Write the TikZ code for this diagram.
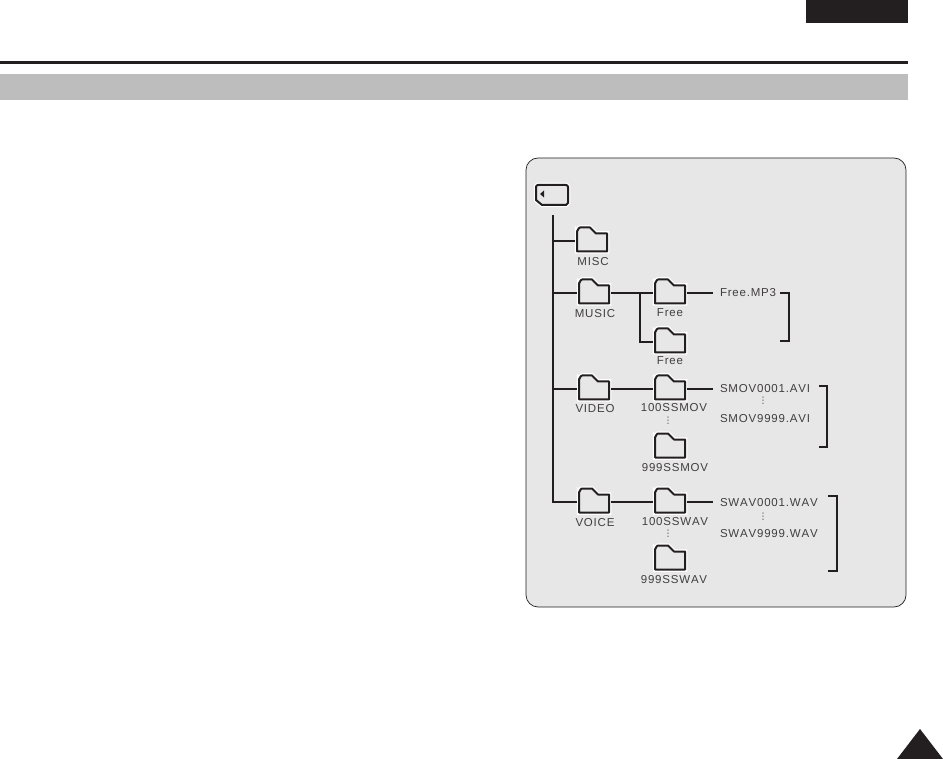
\documentclass[tikz,border=0pt]{standalone}
\usepackage{fontspec}
\setmainfont[LetterSpace=7,Kerning=Off]{Liberation Sans}
\newfontfamily\dotsfont{DejaVu Sans}
\usetikzlibrary{calc}
\definecolor{ink}{RGB}{35,31,32}
\definecolor{bargray}{RGB}{189,189,189}
\definecolor{panelgray}{RGB}{231,231,231}
\definecolor{labelgray}{RGB}{65,62,63}
\tikzset{
  folderbox/.style={minimum width=34pt,minimum height=26pt,inner sep=0pt,outer sep=0pt},
  folderline/.style={draw=ink,fill=panelgray,line width=2pt,line join=round,
    preaction={draw=white,line width=4.5pt}},
  namelabel/.style={text=labelgray,font=\fontsize{11.5}{13}\selectfont,inner sep=0pt,text height=8pt,text depth=0pt},
  filelabel/.style={namelabel,anchor=west,inner xsep=7pt,outer sep=0pt},
  moredots/.style={text=labelgray,font=\dotsfont\fontsize{9}{9}\selectfont,inner sep=0pt},
  treeline/.style={draw=ink,line width=1.7pt},
  bracketline/.style={draw=ink,line width=1.8pt,line cap=butt,line join=miter}
}
\begin{document}
\begin{tikzpicture}[x=1pt,y=-1pt]
  \useasboundingbox (0,0) rectangle (943,759);
  % page furniture
  \fill[ink] (806,0) rectangle (908,23);
  \fill[ink] (0,61) rectangle (908,64);
  \fill[bargray] (0,74) rectangle (908,100);
  \fill[ink] (897,759) -- (920,729) -- (943,759) -- cycle;
  \draw[ink,line width=0.7pt,fill=panelgray,rounded corners=12pt] (526,158) rectangle (906,607);
  % memory card
  \node[minimum width=32pt,minimum height=20pt,inner sep=0pt] (card) at (552,195) {};
  \draw[folderline,shift={(card.center)}] (-14,-10) -- (14,-10) to[out=0,in=90] (16,-8) -- (16,8) to[out=90,in=0] (14,10) -- (-10,10) -- (-16,5) -- (-16,-8) to[out=90,in=180] (-14,-10) -- cycle;
  \fill[ink,shift={(card.center)}] (-12,-1) -- (-8,-4.5) -- (-8,2.5) -- cycle;
  % folders
  \foreach \name/\x/\y/\lx/\ly/\txt in {
    misc/592/241/593/262/MISC,
    music/594/293/595/314/MUSIC,
    freea/670/293/670/313/Free,
    freeb/670/342/670/361/Free,
    video/594/389/595/409/VIDEO,
    smova/670/389/674/408/100SSMOV,
    smovb/670/447/675/467/999SSMOV,
    voice/594/502/595/522/VOICE,
    swava/670/502/675/521/100SSWAV,
    swavb/670/559/674/579/999SSWAV}{
    \node[folderbox] (\name) at (\x,\y) {};
    \draw[folderline,shift={(\name.center)}] (-15,10.5) -- (-15,-10) to[out=-90,in=180] (-12,-13.5) -- (-2,-13.5) -- (4,-7.5) -- (15,-7.5) -- (15,10.5) -- cycle;
    \node[namelabel] (\name-label) at (\lx,\ly) {\txt};
  }
  % files
  \foreach \name/\y/\txt in {
    mpthree/293/Free.MP3,
    avifirst/389/SMOV0001.AVI,
    avilast/418/SMOV9999.AVI,
    wavfirst/502/SWAV0001.WAV,
    wavlast/533/SWAV9999.WAV}{
    \node[filelabel] (\name) at (713,\y) {\txt};
  }
  \foreach \name/\x/\y in {smovdots/668/421,swavdots/668/534,avidots/763/401,wavdots/763/517}{
    \node[moredots] (\name) at (\x,\y) {⋮};
  }
  % tree
  \coordinate (trunktop) at (553,215);
  \coordinate (musicfork) at (640,293);
  \draw[treeline] (trunktop) |- (voice.west);
  \draw[treeline] (trunktop |- misc) -- (misc.west);
  \draw[treeline] (trunktop |- music) -- (music.west);
  \draw[treeline] (trunktop |- video) -- (video.west);
  \draw[treeline] (music.east) -- (freea.west);
  \draw[treeline] (musicfork) |- (freeb.west);
  \draw[treeline] (video.east) -- (smova.west);
  \draw[treeline] (voice.east) -- (swava.west);
  \draw[treeline] (freea.east) -- (mpthree.west);
  \draw[treeline] (smova.east) -- (avifirst.west);
  \draw[treeline] (swava.east) -- (wavfirst.west);
  % brackets
  \draw[bracketline] (780,293) -- (789,293) -- (789,341) -- (780,341);
  \draw[bracketline] (819,386) -- (827,386) -- (827,447) -- (819,447);
  \draw[bracketline] (828,496) -- (837,496) -- (837,571) -- (828,571);
\end{tikzpicture}
\end{document}
